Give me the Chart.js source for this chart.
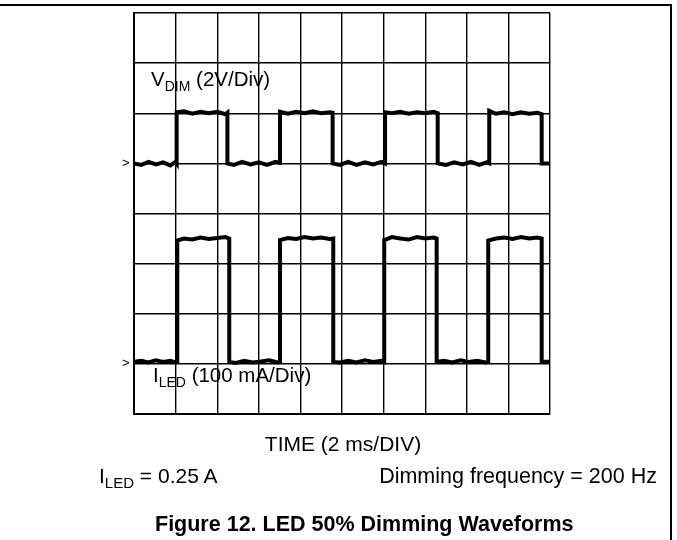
<!DOCTYPE html>
<html>
<head>
<meta charset="utf-8">
<script src="https://cdn.jsdelivr.net/npm/chart.js@4.4.1/dist/chart.umd.min.js"></script>
<style>
  html, body { margin: 0; padding: 0; background: #fff; }
  body { width: 677px; height: 540px; position: relative; overflow: hidden;
         font-family: Arial, "Liberation Sans", Helvetica, sans-serif; color: #000; }
  #wrap { position: absolute; left: 0; top: 0; width: 677px; height: 540px; }
  .frame { position: absolute; left: 0; top: 4px; width: 672px; height: 540px;
           border-top: 2px solid #000; border-right: 2px solid #000; box-sizing: border-box; }
  .lbl { position: absolute; font-size: 20.5px; line-height: 20px; white-space: nowrap; }
  .lbl sub { font-size: 14px; vertical-align: -5px; line-height: 0; }
  .big { font-size: 21px; line-height: 21px; }
  .big sub { font-size: 15px; }
  .mark { position: absolute; font-size: 13px; line-height: 13px; }
</style>
</head>
<body>
<div class="frame"></div>
<div id="wrap"><canvas id="scope" width="677" height="540"></canvas></div>

<div class="lbl" style="left:151px; top:69px;">V<sub>DIM</sub> (2V/Div)</div>
<div class="lbl" style="left:153px; top:365px;">I<sub>LED</sub> (100 mA/Div)</div>
<div class="mark" style="left:122px; top:156px;">&gt;</div>
<div class="mark" style="left:122px; top:356px;">&gt;</div>
<div class="lbl big" style="left:343px; top:433px; transform:translateX(-50%);">TIME (2 ms/DIV)</div>
<div class="lbl big" style="left:99px; top:465px;">I<sub>LED</sub> = 0.25 A</div>
<div class="lbl big" style="right:20px; top:466px; font-size:21.5px;">Dimming frequency = 200 Hz</div>
<div class="lbl big" style="left:155px; top:514px; font-weight:bold; font-size:21.5px;">Figure 12. LED 50% Dimming Waveforms</div>

<script>
// time in ms (2 ms per division), level in divisions from the bottom of the screen
const vdimTime = [0.00, 0.35, 0.70, 1.05, 1.40, 1.75, 2.00, 2.05,
  2.05, 2.40, 2.80, 3.20, 3.60, 4.00, 4.40, 4.49,
  4.49, 4.80, 5.20, 5.60, 6.00, 6.40, 6.80, 7.02,
  7.02, 7.40, 7.80, 8.20, 8.60, 9.00, 9.40, 9.55,
  9.55, 9.90, 10.30, 10.70, 11.10, 11.50, 11.90, 12.07,
  12.07, 12.40, 12.80, 13.20, 13.60, 14.00, 14.40, 14.60,
  14.60, 15.00, 15.40, 15.80, 16.20, 16.60, 16.95, 17.08,
  17.08, 17.40, 17.80, 18.20, 18.60, 19.00, 19.40, 19.60,
  19.60, 20.00];
const vdimLevel = [5.00, 4.97, 5.03, 4.98, 5.02, 4.96, 5.03, 5.00,
  6.02, 6.04, 5.99, 6.03, 6.00, 6.03, 5.98, 6.01,
  5.00, 4.97, 5.03, 4.98, 5.02, 4.97, 5.03, 5.01,
  6.03, 5.99, 6.03, 6.00, 6.04, 6.00, 6.02, 6.01,
  5.00, 4.97, 5.03, 4.97, 5.02, 4.98, 5.03, 5.00,
  6.02, 6.00, 6.03, 5.99, 6.02, 6.00, 6.03, 6.00,
  5.00, 4.97, 5.02, 4.98, 5.03, 4.97, 5.02, 5.00,
  6.05, 5.99, 6.02, 5.98, 6.02, 5.99, 6.01, 5.98,
  5.00, 5.00];

const iledTime = [0.00, 0.35, 0.70, 1.05, 1.40, 1.75, 2.00, 2.08,
  2.08, 2.40, 2.80, 3.20, 3.60, 4.00, 4.40, 4.58,
  4.58, 4.90, 5.30, 5.70, 6.10, 6.50, 6.90, 7.02,
  7.02, 7.40, 7.80, 8.20, 8.60, 9.00, 9.40, 9.58,
  9.58, 9.90, 10.30, 10.70, 11.10, 11.50, 11.90, 12.03,
  12.03, 12.40, 12.80, 13.20, 13.60, 14.00, 14.40, 14.55,
  14.55, 14.90, 15.30, 15.70, 16.10, 16.50, 16.90, 17.03,
  17.03, 17.40, 17.80, 18.20, 18.60, 19.00, 19.40, 19.60,
  19.60, 20.00];
const iledLevel = [1.04, 1.06, 1.03, 1.07, 1.04, 1.06, 1.03, 1.04,
  3.46, 3.50, 3.48, 3.52, 3.49, 3.51, 3.53, 3.50,
  1.04, 1.02, 1.06, 1.03, 1.05, 1.07, 1.03, 1.04,
  3.47, 3.51, 3.49, 3.53, 3.50, 3.52, 3.49, 3.50,
  1.04, 1.03, 1.06, 1.03, 1.07, 1.04, 1.06, 1.04,
  3.47, 3.53, 3.50, 3.48, 3.53, 3.50, 3.52, 3.50,
  1.04, 1.06, 1.03, 1.07, 1.04, 1.06, 1.03, 1.04,
  3.46, 3.50, 3.52, 3.49, 3.53, 3.50, 3.52, 3.50,
  1.04, 1.04];

const toPoints = (xs, ys) => xs.map((x, i) => ({ x: x, y: ys[i] }));

const traceStyle = {
  showLine: true,
  borderColor: '#000',
  borderWidth: 4,
  pointRadius: 0,
  tension: 0,
  borderJoinStyle: 'miter',
  borderCapStyle: 'butt'
};

new Chart(document.getElementById('scope').getContext('2d'), {
  type: 'scatter',
  data: {
    datasets: [
      Object.assign({ label: 'VDIM', data: toPoints(vdimTime, vdimLevel) }, traceStyle),
      Object.assign({ label: 'ILED', data: toPoints(iledTime, iledLevel) }, traceStyle)
    ]
  },
  options: {
    responsive: false,
    animation: false,
    events: [],
    layout: { padding: { left: 134, top: 13, right: 127, bottom: 126 } },
    plugins: { legend: { display: false }, tooltip: { enabled: false } },
    scales: {
      x: {
        type: 'linear', min: 0, max: 20,
        ticks: { stepSize: 2, display: false },
        grid: { color: '#000', lineWidth: 1.4, drawTicks: false },
        border: { color: '#000', width: 2 }
      },
      y: {
        type: 'linear', min: 0, max: 8,
        ticks: { stepSize: 1, display: false },
        grid: { color: '#000', lineWidth: 1.4, drawTicks: false },
        border: { color: '#000', width: 2 }
      }
    }
  }
});
</script>
</body>
</html>
